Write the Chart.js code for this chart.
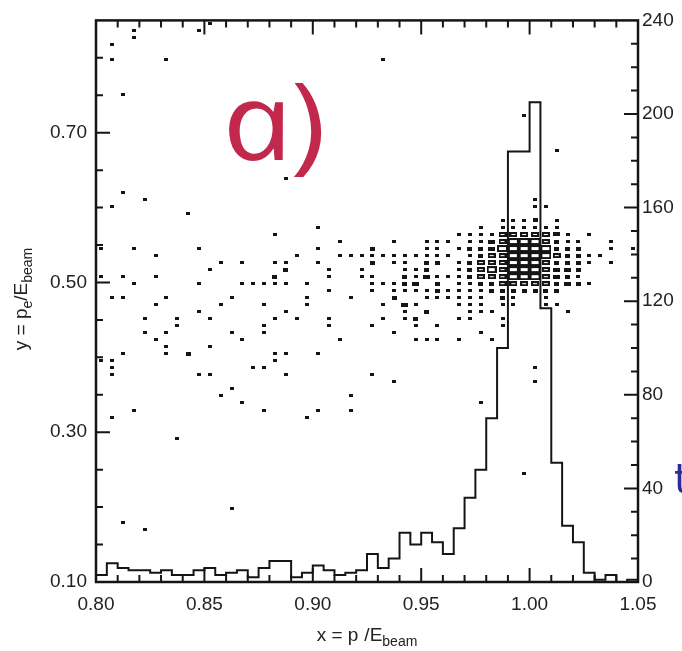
<!DOCTYPE html>
<html>
<head>
<meta charset="utf-8">
<script src="https://cdn.jsdelivr.net/npm/chart.js@4.4.0/dist/chart.umd.min.js"></script>
<style>
  html, body { margin: 0; padding: 0; background: #fff; }
  #wrap { width: 682px; height: 651px; }
</style>
</head>
<body>
<div id="wrap"><canvas id="grafico" width="682" height="651"></canvas></div>
<script>
// histogram of x = p/E_beam (right axis), bins of 0.005 from 0.80
const binStart = 0.80;
const binWidth = 0.005;
const histCounts = [3, 8, 6, 5, 5, 4, 5, 3, 3, 5,
  6, 3, 4, 5, 2, 6, 9, 9, 2, 4,
  7, 5, 3, 4, 5, 12, 6, 10, 21, 16,
  21, 17, 12, 23, 36, 48, 70, 100, 184, 184,
  205, 117, 51, 24, 17, 4, 1, 3, 0, 1];

// tick labels
const xTicks = [0.80, 0.85, 0.90, 0.95, 1.00, 1.05];
const yTicks = [0.10, 0.30, 0.50, 0.70];
const y2Ticks = [0, 40, 80, 120, 160, 200, 240];

// box plot cells: [x centre, y centre, content]
const cellW = 0.005;
const cellH = 0.009375;
const boxCells = [
  [0.8525, 0.8453, 1],
  [0.8175, 0.8359, 1], [0.8475, 0.8359, 1],
  [0.8175, 0.8266, 1],
  [0.8075, 0.8172, 1],
  [0.8075, 0.7984, 1], [0.8325, 0.7984, 1], [0.9325, 0.7984, 1],
  [0.8125, 0.7516, 1],
  [0.9975, 0.7234, 1],
  [1.0125, 0.6766, 1],
  [0.8875, 0.6391, 1],
  [0.8125, 0.6203, 1],
  [0.8225, 0.6109, 1], [1.0025, 0.6109, 1],
  [0.8075, 0.6016, 1], [1.0025, 0.6016, 1], [1.0075, 0.6016, 1],
  [0.8425, 0.5922, 1],
  [0.9875, 0.5828, 1], [0.9925, 0.5828, 1], [0.9975, 0.5828, 1], [1.0025, 0.5828, 2], [1.0125, 0.5828, 1],
  [0.9025, 0.5734, 1], [0.9775, 0.5734, 1], [0.9875, 0.5734, 1], [0.9925, 0.5734, 1], [0.9975, 0.5734, 1],
  [1.0025, 0.5734, 1], [1.0075, 0.5734, 1], [1.0125, 0.5734, 1],
  [0.8825, 0.5641, 1], [0.9675, 0.5641, 1], [0.9725, 0.5641, 1], [0.9775, 0.5641, 1], [0.9825, 0.5641, 1],
  [0.9875, 0.5641, 4], [0.9925, 0.5641, 4], [0.9975, 0.5641, 4], [1.0025, 0.5641, 4], [1.0075, 0.5641, 4],
  [1.0125, 0.5641, 3], [1.0175, 0.5641, 1], [1.0275, 0.5641, 1],
  [0.9125, 0.5547, 1], [0.9375, 0.5547, 1], [0.9525, 0.5547, 1], [0.9575, 0.5547, 1], [0.9625, 0.5547, 1],
  [0.9725, 0.5547, 1], [0.9775, 0.5547, 1], [0.9825, 0.5547, 3], [0.9875, 0.5547, 4], [0.9925, 0.5547, 8],
  [0.9975, 0.5547, 8], [1.0025, 0.5547, 8], [1.0075, 0.5547, 4], [1.0125, 0.5547, 2], [1.0175, 0.5547, 1],
  [1.0225, 0.5547, 1], [1.0375, 0.5547, 1],
  [0.8025, 0.5453, 1], [0.8175, 0.5453, 1], [0.8475, 0.5453, 1], [0.9025, 0.5453, 1], [0.9275, 0.5453, 2],
  [0.9525, 0.5453, 1], [0.9575, 0.5453, 1], [0.9675, 0.5453, 1], [0.9725, 0.5453, 2], [0.9775, 0.5453, 2],
  [0.9825, 0.5453, 3], [0.9875, 0.5453, 8], [0.9925, 0.5453, 8], [0.9975, 0.5453, 8], [1.0025, 0.5453, 8],
  [1.0075, 0.5453, 8], [1.0125, 0.5453, 2], [1.0175, 0.5453, 2], [1.0225, 0.5453, 2], [1.0375, 0.5453, 1],
  [1.0475, 0.5453, 1],
  [0.8275, 0.5359, 1], [0.8925, 0.5359, 1], [0.9125, 0.5359, 1], [0.9175, 0.5359, 1], [0.9225, 0.5359, 1],
  [0.9275, 0.5359, 1], [0.9325, 0.5359, 1], [0.9375, 0.5359, 1], [0.9425, 0.5359, 1], [0.9475, 0.5359, 1],
  [0.9525, 0.5359, 1], [0.9575, 0.5359, 1], [0.9625, 0.5359, 1], [0.9725, 0.5359, 1], [0.9775, 0.5359, 2],
  [0.9825, 0.5359, 4], [0.9875, 0.5359, 4], [0.9925, 0.5359, 8], [0.9975, 0.5359, 8], [1.0025, 0.5359, 8],
  [1.0075, 0.5359, 8], [1.0125, 0.5359, 4], [1.0175, 0.5359, 2], [1.0225, 0.5359, 2], [1.0275, 0.5359, 1],
  [1.0325, 0.5359, 1],
  [0.8575, 0.5266, 1], [0.8675, 0.5266, 1], [0.8825, 0.5266, 1], [0.8875, 0.5266, 1], [0.9025, 0.5266, 1],
  [0.9275, 0.5266, 2], [0.9375, 0.5266, 1], [0.9425, 0.5266, 1], [0.9525, 0.5266, 2], [0.9575, 0.5266, 2],
  [0.9675, 0.5266, 1], [0.9725, 0.5266, 2], [0.9775, 0.5266, 4], [0.9825, 0.5266, 4], [0.9875, 0.5266, 4],
  [0.9925, 0.5266, 8], [0.9975, 0.5266, 8], [1.0025, 0.5266, 8], [1.0075, 0.5266, 4], [1.0125, 0.5266, 2],
  [1.0175, 0.5266, 2], [1.0225, 0.5266, 2], [1.0275, 0.5266, 1], [1.0375, 0.5266, 1],
  [0.8525, 0.5172, 1], [0.8875, 0.5172, 2], [0.9075, 0.5172, 1], [0.9225, 0.5172, 1], [0.9425, 0.5172, 1],
  [0.9475, 0.5172, 1], [0.9525, 0.5172, 2], [0.9675, 0.5172, 1], [0.9725, 0.5172, 2], [0.9775, 0.5172, 4],
  [0.9825, 0.5172, 7], [0.9875, 0.5172, 4], [0.9925, 0.5172, 8], [0.9975, 0.5172, 8], [1.0025, 0.5172, 8],
  [1.0075, 0.5172, 4], [1.0125, 0.5172, 3], [1.0175, 0.5172, 3], [1.0225, 0.5172, 2],
  [0.8025, 0.5078, 1], [0.8125, 0.5078, 1], [0.8275, 0.5078, 1], [0.8825, 0.5078, 2], [0.9075, 0.5078, 1],
  [0.9225, 0.5078, 1], [0.9275, 0.5078, 1], [0.9425, 0.5078, 2], [0.9475, 0.5078, 1], [0.9525, 0.5078, 3],
  [0.9575, 0.5078, 1], [0.9625, 0.5078, 1], [0.9675, 0.5078, 1], [0.9725, 0.5078, 2], [0.9775, 0.5078, 4],
  [0.9825, 0.5078, 4], [0.9875, 0.5078, 4], [0.9925, 0.5078, 8], [0.9975, 0.5078, 8], [1.0025, 0.5078, 8],
  [1.0075, 0.5078, 4], [1.0125, 0.5078, 3], [1.0175, 0.5078, 2], [1.0225, 0.5078, 1],
  [0.8175, 0.4984, 1], [0.8475, 0.4984, 1], [0.8675, 0.4984, 1], [0.8725, 0.4984, 1], [0.8775, 0.4984, 1],
  [0.8825, 0.4984, 1], [0.8875, 0.4984, 1], [0.8975, 0.4984, 1], [0.9275, 0.4984, 1], [0.9325, 0.4984, 1],
  [0.9375, 0.4984, 1], [0.9425, 0.4984, 2], [0.9475, 0.4984, 3], [0.9575, 0.4984, 2], [0.9675, 0.4984, 1],
  [0.9725, 0.4984, 1], [0.9775, 0.4984, 2], [0.9825, 0.4984, 2], [0.9875, 0.4984, 4], [0.9925, 0.4984, 4],
  [0.9975, 0.4984, 4], [1.0025, 0.4984, 4], [1.0075, 0.4984, 4], [1.0125, 0.4984, 2], [1.0175, 0.4984, 3],
  [1.0225, 0.4984, 2], [1.0275, 0.4984, 1],
  [0.9075, 0.4891, 1], [0.9275, 0.4891, 1], [0.9375, 0.4891, 1], [0.9425, 0.4891, 1], [0.9475, 0.4891, 1],
  [0.9525, 0.4891, 1], [0.9575, 0.4891, 2], [0.9625, 0.4891, 1], [0.9675, 0.4891, 1], [0.9725, 0.4891, 1],
  [0.9775, 0.4891, 1], [0.9825, 0.4891, 2], [0.9875, 0.4891, 2], [0.9925, 0.4891, 2], [0.9975, 0.4891, 2],
  [1.0025, 0.4891, 2], [1.0075, 0.4891, 2], [1.0125, 0.4891, 2],
  [0.8075, 0.4797, 1], [0.8125, 0.4797, 1], [0.8325, 0.4797, 1], [0.8625, 0.4797, 1], [0.8975, 0.4797, 1],
  [0.9175, 0.4797, 1], [0.9375, 0.4797, 2], [0.9525, 0.4797, 1], [0.9575, 0.4797, 1], [0.9625, 0.4797, 1],
  [0.9675, 0.4797, 1], [0.9725, 0.4797, 1], [0.9775, 0.4797, 1], [0.9875, 0.4797, 2], [0.9925, 0.4797, 1],
  [1.0075, 0.4797, 1],
  [0.8275, 0.4703, 1], [0.8575, 0.4703, 1], [0.8775, 0.4703, 1], [0.8975, 0.4703, 1], [0.9325, 0.4703, 1],
  [0.9425, 0.4703, 3], [0.9475, 0.4703, 1], [0.9675, 0.4703, 1], [0.9725, 0.4703, 1], [0.9775, 0.4703, 1],
  [0.9875, 0.4703, 1], [0.9925, 0.4703, 1], [1.0075, 0.4703, 1], [1.0125, 0.4703, 1],
  [0.8475, 0.4609, 1], [0.8875, 0.4609, 1], [0.9425, 0.4609, 1], [0.9525, 0.4609, 2], [0.9725, 0.4609, 1],
  [0.9775, 0.4609, 1], [0.9825, 0.4609, 1], [1.0175, 0.4609, 1],
  [0.8225, 0.4516, 1], [0.8375, 0.4516, 1], [0.8525, 0.4516, 1], [0.8825, 0.4516, 1], [0.8925, 0.4516, 1],
  [0.9075, 0.4516, 1], [0.9325, 0.4516, 1], [0.9425, 0.4516, 1], [0.9475, 0.4516, 2], [0.9675, 0.4516, 1],
  [0.9725, 0.4516, 1], [0.9875, 0.4516, 1],
  [0.8375, 0.4422, 1], [0.8775, 0.4422, 1], [0.9075, 0.4422, 1], [0.9275, 0.4422, 1], [0.9475, 0.4422, 1],
  [0.9575, 0.4422, 1], [0.9875, 0.4422, 1],
  [0.8225, 0.4328, 1], [0.8325, 0.4328, 1], [0.8625, 0.4328, 1], [0.8775, 0.4328, 1], [0.9375, 0.4328, 1],
  [0.9775, 0.4328, 1],
  [0.8275, 0.4234, 1], [0.8675, 0.4234, 1], [0.9125, 0.4234, 1], [0.9475, 0.4234, 1], [0.9525, 0.4234, 1],
  [0.9575, 0.4234, 1], [0.9675, 0.4234, 1], [0.9825, 0.4234, 1],
  [0.8325, 0.4141, 1], [0.8525, 0.4141, 1],
  [0.8125, 0.4047, 1], [0.8325, 0.4047, 1], [0.8425, 0.4047, 2], [0.8825, 0.4047, 1], [0.8875, 0.4047, 1],
  [0.9025, 0.4047, 1],
  [0.8025, 0.3953, 1], [0.8075, 0.3953, 1], [0.8825, 0.3953, 1],
  [0.8075, 0.3859, 1], [0.8725, 0.3859, 1], [0.8775, 0.3859, 1], [1.0025, 0.3859, 1],
  [0.8075, 0.3766, 1], [0.8475, 0.3766, 1], [0.8525, 0.3766, 1], [0.8875, 0.3766, 1], [0.9275, 0.3766, 1],
  [0.9375, 0.3672, 1], [1.0025, 0.3672, 1],
  [0.8625, 0.3578, 1],
  [0.8575, 0.3484, 1], [0.9175, 0.3484, 1],
  [0.8675, 0.3391, 1], [0.9775, 0.3391, 1],
  [0.8175, 0.3297, 1], [0.8775, 0.3297, 1], [0.9025, 0.3297, 1], [0.9175, 0.3297, 1],
  [0.8075, 0.3203, 1], [0.8975, 0.3203, 1],
  [0.8375, 0.2922, 1],
  [0.9975, 0.2453, 1],
  [0.8625, 0.1984, 1],
  [0.8125, 0.1797, 1],
  [0.8225, 0.1703, 1]
];
const boxFull = 8;

const histPoints = histCounts.map((c, i) => ({ x: binStart + i * binWidth, y: c }));
histPoints.push({ x: binStart + histCounts.length * binWidth, y: histCounts[histCounts.length - 1] });

const tickFont = { family: "'Liberation Sans', Arial, sans-serif", size: 19 };
const ink = '#151515';

// box images, one per content value
const boxCache = {};
function boxImage(chart, n) {
  const xs = chart.scales.x, ys = chart.scales.y;
  const cw = Math.abs(xs.getPixelForValue(0.80 + cellW) - xs.getPixelForValue(0.80));
  const ch = Math.abs(ys.getPixelForValue(0.10 + cellH) - ys.getPixelForValue(0.10));
  const key = n + '_' + cw.toFixed(2);
  if (boxCache[key]) return boxCache[key];
  const f = Math.min(1, Math.sqrt(n / boxFull));
  const w = Math.max(3, Math.round(cw * f));
  const h = Math.max(3, Math.round(ch * f));
  const c = document.createElement('canvas');
  c.width = w;
  c.height = h;
  const g = c.getContext('2d');
  g.fillStyle = ink;
  g.fillRect(0, 0, w, h);
  if (w > 6 && h > 4) {
    g.clearRect(2, 2, w - 4, h - 4);
  }
  boxCache[key] = c;
  return c;
}

function drawRich(ctx, parts, x, y) {
  let cx = x;
  parts.forEach(p => {
    ctx.font = p.size + "px 'Liberation Sans', Arial, sans-serif";
    ctx.fillText(p.text, cx, y + (p.shift || 0));
    cx += ctx.measureText(p.text).width + (p.gap || 0);
  });
  return cx - x;
}
function richWidth(ctx, parts) {
  let w = 0;
  parts.forEach(p => {
    ctx.font = p.size + "px 'Liberation Sans', Arial, sans-serif";
    w += ctx.measureText(p.text).width + (p.gap || 0);
  });
  return w;
}

const framePlugin = {
  id: 'framePlugin',
  afterDatasetsDraw(chart) {
    const { ctx, chartArea: a, scales } = chart;
    ctx.save();
    ctx.strokeStyle = ink;
    ctx.lineWidth = 2;
    ctx.beginPath();
    // x ticks every 0.01, top and bottom
    for (let k = 81; k < 105; k++) {
      const px = scales.x.getPixelForValue(k / 100);
      const len = k % 5 === 0 ? 14 : 7;
      ctx.moveTo(px, a.bottom); ctx.lineTo(px, a.bottom - len);
      ctx.moveTo(px, a.top); ctx.lineTo(px, a.top + len);
    }
    // left ticks every 0.05
    for (let k = 3; k < 17; k++) {
      const py = scales.y.getPixelForValue(k * 0.05);
      const len = k % 4 === 2 ? 14 : 7;
      ctx.moveTo(a.left, py); ctx.lineTo(a.left + len, py);
    }
    // right ticks every 10
    for (let k = 1; k < 24; k++) {
      const py = scales.y2.getPixelForValue(k * 10);
      const len = k % 4 === 0 ? 14 : 7;
      ctx.moveTo(a.right, py); ctx.lineTo(a.right - len, py);
    }
    ctx.stroke();
    ctx.lineWidth = 2.5;
    ctx.strokeRect(a.left, a.top, a.right - a.left, a.bottom - a.top);

    // axis titles
    ctx.fillStyle = '#222';
    ctx.textBaseline = 'alphabetic';
    ctx.textAlign = 'left';
    const xTitle = [
      { text: 'x = p', size: 19, gap: 6 },
      { text: '/E', size: 19 },
      { text: 'beam', size: 14, shift: 5 }
    ];
    const xw = richWidth(ctx, xTitle);
    drawRich(ctx, xTitle, 367 - xw / 2, 641);

    const yTitle = [
      { text: 'y = p', size: 19 },
      { text: 'e', size: 14, shift: 5 },
      { text: '/E', size: 19 },
      { text: 'beam', size: 14, shift: 5 }
    ];
    const yw = richWidth(ctx, yTitle);
    ctx.save();
    ctx.translate(27, 299);
    ctx.rotate(-Math.PI / 2);
    drawRich(ctx, yTitle, -yw / 2, 0);
    ctx.restore();

    // panel label
    ctx.save();
    ctx.fillStyle = '#c1284b';
    ctx.font = "italic 108px 'Open Sans', 'Noto Sans', sans-serif";
    ctx.translate(229, 160);
    ctx.transform(1.15, 0, 0.24, 1, 0, 0);
    ctx.fillText('a)', 0, 0);
    ctx.restore();

    // cut-off mark at the right edge
    ctx.fillStyle = '#2b2b95';
    ctx.font = "40px 'DejaVu Sans', sans-serif";
    ctx.fillText('t', 674, 493);
    ctx.restore();
  }
};

const chart = new Chart(document.getElementById('grafico'), {
  data: {
    datasets: [
      {
        type: 'scatter',
        label: 'cells',
        data: boxCells.map(c => ({ x: c[0], y: c[1], n: c[2] })),
        yAxisID: 'y',
        pointRadius: 3,
        pointHoverRadius: 3,
        pointStyle: ctx => boxImage(ctx.chart, ctx.raw ? ctx.raw.n : 1),
        order: 2
      },
      {
        type: 'line',
        label: 'histogram',
        data: histPoints,
        yAxisID: 'y2',
        stepped: true,
        borderColor: ink,
        borderWidth: 2,
        pointRadius: 0,
        fill: false,
        order: 1
      }
    ]
  },
  options: {
    responsive: false,
    animation: false,
    devicePixelRatio: 1,
    layout: { padding: { top: 15, left: 0, right: 0, bottom: 0 } },
    plugins: { legend: { display: false }, tooltip: { enabled: false } },
    scales: {
      x: {
        type: 'linear',
        min: 0.80,
        max: 1.05,
        afterBuildTicks: s => { s.ticks = xTicks.map(v => ({ value: v })); },
        afterFit: s => { s.height = 69; },
        ticks: { callback: v => v.toFixed(2), font: tickFont, color: '#222', padding: 11, maxRotation: 0, autoSkip: false },
        grid: { display: false, drawTicks: false },
        border: { display: false }
      },
      y: {
        type: 'linear',
        position: 'left',
        min: 0.10,
        max: 0.85,
        afterBuildTicks: s => { s.ticks = yTicks.map(v => ({ value: v })); },
        afterFit: s => { s.width = 96; },
        ticks: { callback: v => v.toFixed(2), font: tickFont, color: '#222', padding: 9, autoSkip: false },
        grid: { display: false, drawTicks: false },
        border: { display: false }
      },
      y2: {
        type: 'linear',
        position: 'right',
        min: 0,
        max: 240,
        afterBuildTicks: s => { s.ticks = y2Ticks.map(v => ({ value: v })); },
        afterFit: s => { s.width = 44; },
        ticks: { font: tickFont, color: '#222', padding: 4, autoSkip: false },
        grid: { display: false, drawTicks: false },
        border: { display: false }
      }
    }
  },
  plugins: [framePlugin]
});
</script>
</body>
</html>
